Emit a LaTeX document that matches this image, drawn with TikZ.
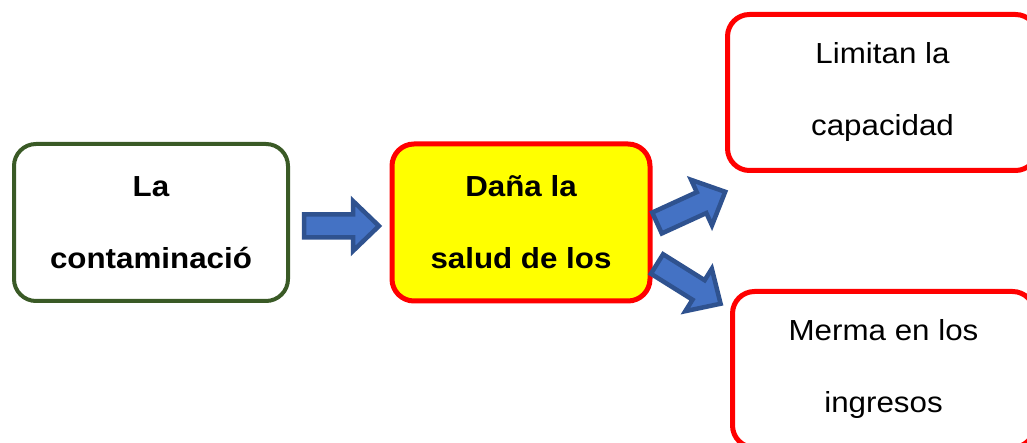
\documentclass[tikz,border=0pt]{standalone}
\usepackage{fontspec}
\setmainfont[FakeStretch=1.08]{Liberation Sans}
\definecolor{verdeoscuro}{HTML}{3A5A26}
\definecolor{amarillo}{HTML}{FFFF00}
\definecolor{rojo}{HTML}{FF0000}
\definecolor{azulflecha}{HTML}{4472C4}
\definecolor{azulborde}{HTML}{2F528F}

\begin{document}
\begin{tikzpicture}[x=1pt,y=1pt]
	\tikzstyle{caja}=[rectangle, rounded corners=22pt, align=center, font=\fontsize{29}{72}\selectfont]
	\tikzset{flecha/.pic={\draw[fill=azulflecha, draw=azulborde, line width=4.5pt, miter limit=10] (0,-11.5) -- (49,-11.5) -- (49,-25) -- (75,0) -- (49,25) -- (49,11.5) -- (0,11.5) -- cycle;}}

	\clip (0,0) rectangle (1027,443);

	\node[caja, draw=verdeoscuro, line width=4pt, minimum width=274pt, minimum height=157pt] (contam) at (151,220.5) {\bfseries La\\\bfseries contaminació};
	\node[caja, draw=rojo, fill=amarillo, line width=5pt, minimum width=258pt, minimum height=157pt] (dana) at (521,220.5) {\bfseries Daña la\\\bfseries salud de los};
	\node[caja, draw=rojo, line width=5pt, minimum width=310pt, minimum height=156pt] (limitan) at (882.5,350.5) {Limitan la\\capacidad};
	\node[caja, draw=rojo, line width=5pt, minimum width=302pt, minimum height=156pt] (merma) at (883.5,73.5) {Merma en los\\ingresos};

	\pic at (304,217) {flecha};
	\pic[rotate=24.6] at (657,220) {flecha};
	\pic[rotate=-32] at (657,179) {flecha};
\end{tikzpicture}
\end{document}
